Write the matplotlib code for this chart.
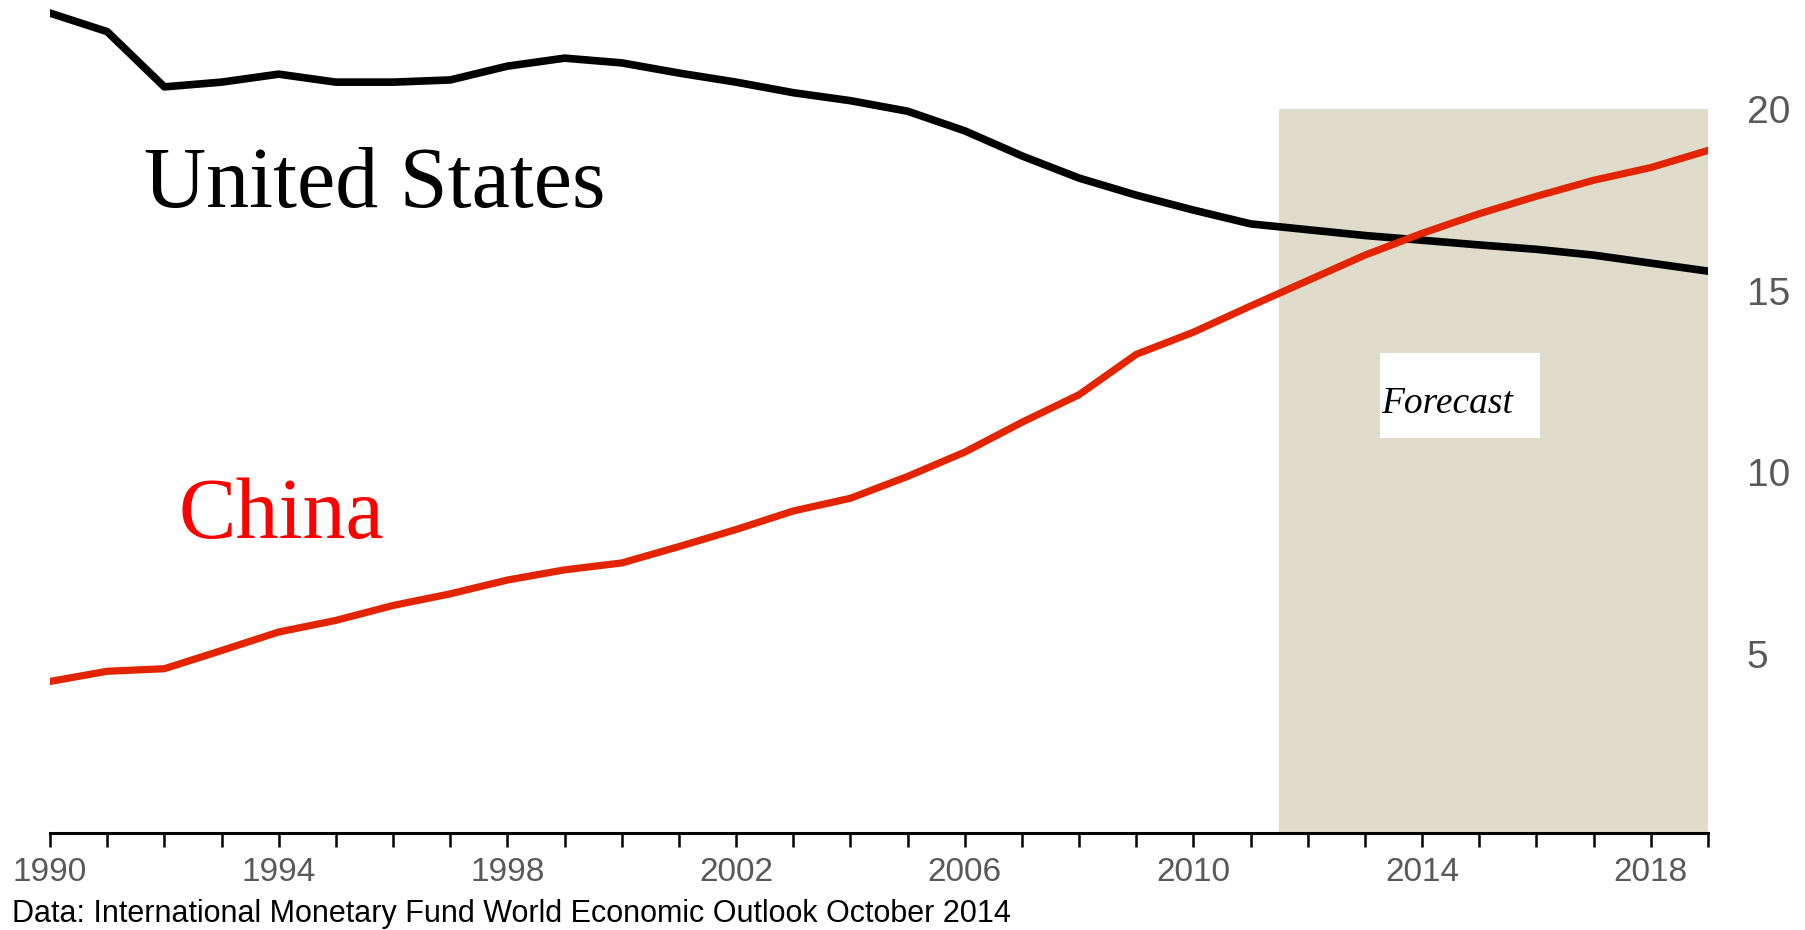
import matplotlib
matplotlib.use("Agg")
import matplotlib.pyplot as plt
from matplotlib import font_manager
from matplotlib.patches import Rectangle

# GDP share of world total (PPP), IMF WEO Oct 2014
years = list(range(1990, 2020))
us_share = [22.64, 22.13, 20.61, 20.74, 20.96, 20.74, 20.74, 20.80, 21.18, 21.40,
            21.27, 20.99, 20.74, 20.45, 20.23, 19.94, 19.40, 18.71, 18.10, 17.63,
            17.22, 16.84, 16.68, 16.52, 16.39, 16.26, 16.14, 15.98, 15.76, 15.54]
china_share = [4.25, 4.53, 4.60, 5.10, 5.61, 5.93, 6.34, 6.66, 7.04, 7.32,
               7.51, 7.96, 8.43, 8.94, 9.29, 9.89, 10.56, 11.38, 12.14, 13.25,
               13.86, 14.58, 15.28, 15.98, 16.58, 17.12, 17.60, 18.04, 18.39, 18.86]
x_labels = [1990, 1994, 1998, 2002, 2006, 2010, 2014, 2018]
y_ticks = [5, 10, 15, 20]
forecast_start = 2011.5
forecast_top = 20

fonts = font_manager.fontManager.ttflist
print(sorted(set((f.name, f.stretch) for f in fonts)))
condensed = [f.name for f in fonts if f.stretch not in ("normal", 500)]
narrow = "Liberation Sans"

fig = plt.figure(figsize=(18.06, 9.30), dpi=100)
ax = fig.add_axes([50 / 1806, 97 / 930, 1658 / 1806, 833 / 930])

ax.axvspan(forecast_start, 2019, ymin=0, ymax=(forecast_top - 0.08) / (23 - 0.08),
           color="#dfdccb", lw=0, zorder=0)
ax.add_patch(Rectangle((2013.26, 10.96), 2.8, 2.32, facecolor="white",
                       edgecolor="none", zorder=1))
ax.text(2013.28, 11.65, "Forecast", family="Liberation Serif", style="italic",
        fontsize=27, color="black", zorder=2)

ax.plot(years, us_share, color="black", lw=5.5, zorder=3)
ax.plot(years, china_share, color="#e32400", lw=5.2, zorder=3)

ax.text(1991.65, 17.31, "United States", family="Liberation Serif",
        fontsize=62, color="black")
ax.text(1992.25, 8.2, "China", family="Liberation Serif", fontsize=62,
        color="red")

ax.set_xlim(1990, 2019)
ax.set_ylim(0.08, 23)
ax.set_xticks(x_labels)
ax.set_xticks(years, minor=True)
ax.set_xticklabels([str(y) for y in x_labels], family=narrow, fontsize=24,
                   color="#595959")
ax.tick_params(axis="x", which="both", direction="out", length=10, width=1.8,
               color="black", pad=7)
ax.set_yticks(y_ticks)
ax.set_yticklabels([str(y) for y in y_ticks], family=narrow, fontsize=28,
                   color="#595959")
ax.yaxis.tick_right()
ax.tick_params(axis="y", length=0, pad=28)

for side in ["top", "left", "right"]:
    ax.spines[side].set_visible(False)
ax.spines["bottom"].set_linewidth(2.2)

fig.text(12 / 1806, 8 / 930,
         "Data: International Monetary Fund World Economic Outlook October 2014",
         family=narrow, fontsize=22, color="black")

fig.savefig("out.png", dpi=100)
